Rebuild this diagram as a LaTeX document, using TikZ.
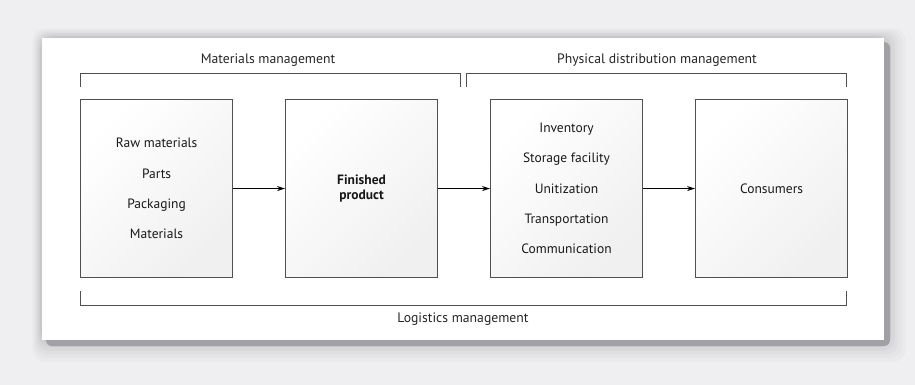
\documentclass[tikz,border=0pt]{standalone}
\usepackage{fontspec}
\setmainfont{PT Sans}
\usetikzlibrary{arrows.meta,shadings}
\definecolor{bgc}{HTML}{EFEFF1}
\definecolor{shc}{HTML}{A0A0A6}
\definecolor{edge}{HTML}{505050}
\tikzset{
  stage/.style={draw=edge,line width=1.1pt,minimum width=152pt,minimum height=178pt,
    top color=white,bottom color=black!6,shading angle=45,anchor=north west,inner sep=0pt,align=center,
    font=\fontsize{13.5}{30.3}\selectfont,text=black!90},
  brk/.style={draw=edge,line width=0.9pt},
  lbl/.style={font=\fontsize{13.7}{15}\selectfont,text=black!85},
  flow/.style={draw=black,line width=0.8pt,-{Stealth[length=8pt,width=5pt]}}
}
\begin{document}
\begin{tikzpicture}[x=1pt,y=-1pt]
\useasboundingbox (0,0) rectangle (915,385);
\fill[bgc] (0,0) rectangle (915,385);
% shadow
\foreach \i/\o in {12/0.05,10/0.06,8/0.08,6/0.1,4/0.14,2/0.2}{
  \fill[shc,opacity=\o,rounded corners=12pt] (42-\i*0.8,38-\i*0.8) rectangle (884+\i*1.8,340+\i*1.8);
}
\fill[shc,rounded corners=6pt] (46,42) rectangle (890,346);
\fill[white] (42,38) rectangle (884,340);
% boxes
\node[stage] (b1) at (80,99) {Raw materials\\Parts\\Packaging\\Materials};
\node[stage,font=\fontsize{13.5}{15.5}\selectfont\bfseries] (b2) at (285,99) {Finished\\product};
\node[stage] (b3) at (490,99) {Inventory\\Storage facility\\Unitization\\Transportation\\Communication};
\node[stage] (b4) at (695,99) {Consumers};
\draw[flow] (b1.east) -- (b2.west);
\draw[flow] (b2.east) -- (b3.west);
\draw[flow] (b3.east) -- (b4.west);
% brackets
\coordinate (m1) at (80,87); \coordinate (m2) at (80,73); \coordinate (m3) at (460.5,73); \coordinate (m4) at (460.5,87);
\draw[brk] (m1) -- (m2) -- (m3) -- (m4);
\node[lbl] (mm) at (268,60) {Materials management};
\coordinate (p1) at (466.5,87); \coordinate (p2) at (466.5,73); \coordinate (p3) at (846.5,73); \coordinate (p4) at (846.5,87);
\draw[brk] (p1) -- (p2) -- (p3) -- (p4);
\node[lbl] (pd) at (657,60) {Physical distribution management};
\coordinate (l1) at (80,291); \coordinate (l2) at (80,305); \coordinate (l3) at (846.5,305); \coordinate (l4) at (846.5,291);
\draw[brk] (l1) -- (l2) -- (l3) -- (l4);
\node[lbl] (lm) at (463,319) {Logistics management};
\end{tikzpicture}
\end{document}
